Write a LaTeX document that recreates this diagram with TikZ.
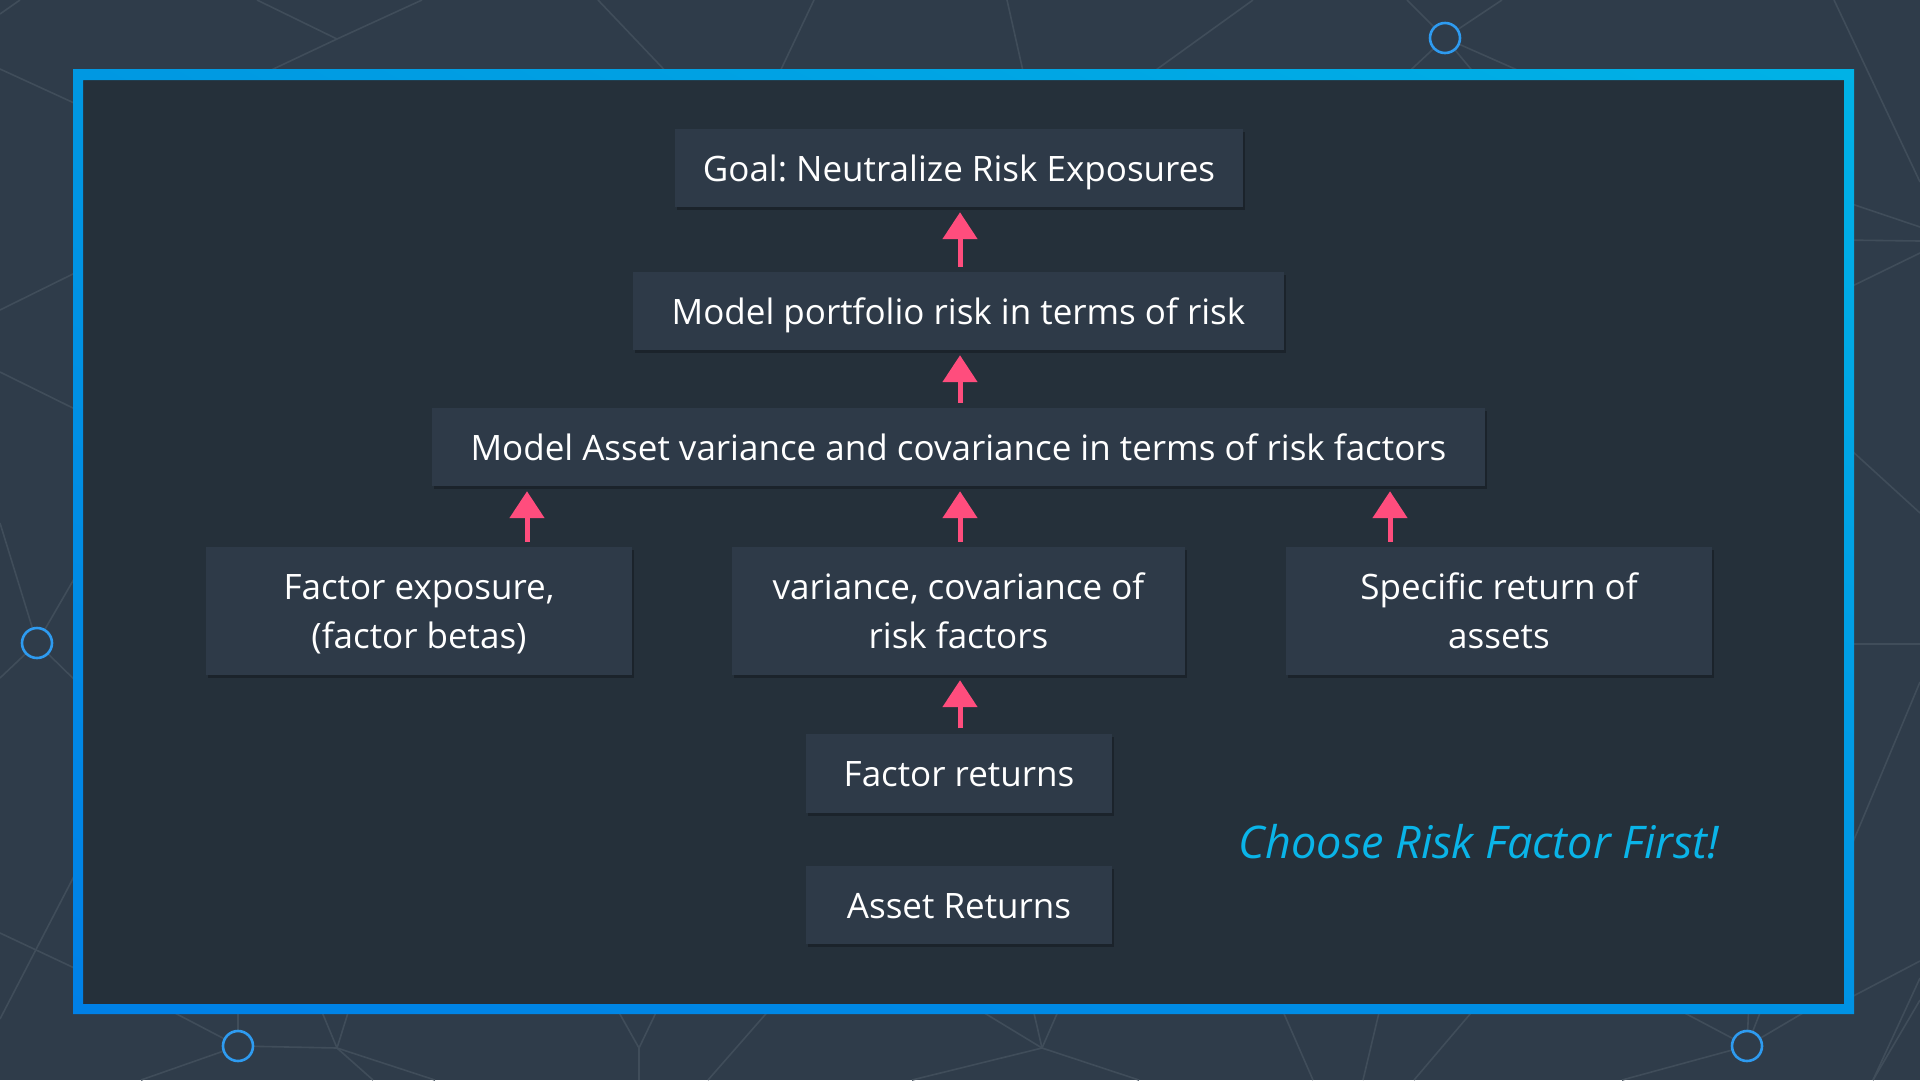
\documentclass[tikz,border=0pt]{standalone}
\usepackage{fontspec}
\setmainfont{Open Sans}
\usetikzlibrary{arrows.meta,shadows,shadings}
\frenchspacing
\definecolor{bgout}{HTML}{2F3C4A}
\definecolor{bgin}{HTML}{25303A}
\definecolor{boxfill}{HTML}{2E3A48}
\definecolor{netline}{HTML}{404D5A}
\definecolor{circblue}{HTML}{2E9BF0}
\definecolor{pinkarr}{HTML}{FF4D7D}
\definecolor{cyantext}{HTML}{0AB4E8}
\definecolor{frameA}{HTML}{0080E6}
\definecolor{frameB}{HTML}{0098E2}
\definecolor{frameC}{HTML}{00B2E6}
\definecolor{frameD}{HTML}{0092E4}
\begin{document}
\begin{tikzpicture}[x=1pt,y=-1pt,
  net/.style={draw=netline,line width=1.6pt},
  hub/.style={draw=circblue,line width=2.6pt,fill=bgout},
  card/.style={fill=boxfill,inner sep=0pt,align=center,text=white,
    font=\fontsize{35}{49}\selectfont\frenchspacing,
    drop shadow={shadow xshift=2pt,shadow yshift=-3pt,opacity=0.25,fill=black}},
  oneline/.style={card,text height=27pt,text depth=0pt},
  parr/.style={draw=pinkarr,line width=5pt,-{Triangle[length=27pt,width=34pt]},
    shorten <=5pt,shorten >=5pt}]
\useasboundingbox (0,0) rectangle (1920,1080);
\fill[bgout] (0,0) rectangle (1920,1080);
% background network
\draw[net] (257,0) -- (337,39) -- (422,0);
\draw[net] (337,39) -- (250,80);
\draw[net] (598,0) -- (674,80);
\draw[net] (814,0) -- (776,80);
\draw[net] (1007,0) -- (1025,80);
\draw[net] (1253,0) -- (1142,80);
\draw[net] (1445,38) -- (1407,0);
\draw[net] (1445,38) -- (1502,0);
\draw[net] (1445,38) -- (1400,80);
\draw[net] (1445,38) -- (1480,80);
\draw[net] (1445,38) -- (1540,80);
\draw[net] (1834,0) -- (1920,182);
\draw[net] (1840,200) -- (1920,227);
\draw[net] (1840,240) -- (1920,241);
\draw[net] (1840,292) -- (1920,253);
\draw[net] (1840,440) -- (1920,513);
\draw[net] (1840,644) -- (1920,644);
\draw[net] (1840,873) -- (1920,682);
\draw[net] (1840,1003) -- (1920,961);
\draw[net] (1873,1080) -- (1920,978);
\draw[net] (0,14) -- (20,0);
\draw[net] (0,69) -- (85,108);
\draw[net] (0,310) -- (85,268);
\draw[net] (0,372) -- (85,414);
\draw[net] (37,643) -- (0,523);
\draw[net] (37,643) -- (85,560);
\draw[net] (37,643) -- (0,678);
\draw[net] (37,643) -- (85,690);
\draw[net] (0,933) -- (85,973);
\draw[net] (0,1019) -- (85,855);
\draw[net] (238,1046) -- (150,1000);
\draw[net] (238,1046) -- (238,1000);
\draw[net] (238,1046) -- (337,1048);
\draw[net] (238,1046) -- (141,1080);
\draw[net] (337,1048) -- (317,1000);
\draw[net] (337,1048) -- (352,1000);
\draw[net] (337,1048) -- (435,1080);
\draw[net] (337,1048) -- (373,1080);
\draw[net] (612,1000) -- (639,1048) -- (662,1000);
\draw[net] (639,1048) -- (639,1080);
\draw[net] (778,1000) -- (708,1080);
\draw[net] (1042,1048) -- (963,1000);
\draw[net] (1042,1048) -- (1031,1000);
\draw[net] (1042,1048) -- (1063,1000);
\draw[net] (1042,1048) -- (912,1080);
\draw[net] (1042,1048) -- (1139,1080);
\draw[net] (1278,1000) -- (1313,1080);
\draw[net] (1382,1000) -- (1363,1080);
\draw[net] (1482,1000) -- (1414,1080);
\draw[net] (1747,1046) -- (1660,1000);
\draw[net] (1747,1046) -- (1749,1000);
\draw[net] (1747,1046) -- (1765,1000);
\draw[net] (1747,1046) -- (1825,1000);
\draw[net] (1747,1046) -- (1622,1080);
\draw[net] (1920,1000) -- (1873,1080);
% hubs
\draw[hub] (1445,38) circle[radius=15];
\draw[hub] (37,643) circle[radius=15];
\draw[hub] (238,1046) circle[radius=15];
\draw[hub] (1747,1046) circle[radius=15];
% frame
\fill[bgin] (73,69) rectangle (1854,1014);
\shade[even odd rule,lower left=frameA,upper left=frameB,upper right=frameC,lower right=frameD]
  (73,69) rectangle (1854,1014) (83,80) rectangle (1844,1004);
% boxes
\node[oneline,minimum width=568pt,minimum height=78pt] (goal) at (959,168) {Goal: Neutralize Risk Exposures};
\node[oneline,minimum width=651pt,minimum height=78pt] (mpr) at (958.5,311) {Model portfolio risk in terms of risk};
\node[oneline,minimum width=1053pt,minimum height=78pt] (mav) at (958.5,447) {Model Asset variance and covariance in terms of risk factors};
\node[card,text depth=0pt,minimum width=426pt,minimum height=128pt] (fe) at (419,611) {Factor exposure,\\(factor betas)};
\node[card,minimum width=453pt,minimum height=128pt] (vc) at (958.5,611) {variance, covariance of\\risk factors};
\node[card,minimum width=426pt,minimum height=128pt] (sr) at (1499,611) {Specific return of\\assets};
\node[oneline,minimum width=306pt,minimum height=79pt] (fr) at (959,773) {Factor returns};
\node[oneline,minimum width=306pt,minimum height=78pt] (ar) at (959,905) {Asset Returns};
\node[text=cyantext,font=\fontsize{45}{54}\selectfont\itshape,inner sep=0pt] (note) at (1479,842) {Choose Risk Factor First!};
% arrows
\coordinate (feA) at ([xshift=108pt]fe.north);
\coordinate (srA) at ([xshift=-109pt]sr.north);
\draw[parr] (mpr.north -| 960,0) -- (goal.south -| 960,0);
\draw[parr] (mav.north -| 960,0) -- (mpr.south -| 960,0);
\draw[parr] (vc.north -| 960,0) -- (mav.south -| 960,0);
\draw[parr] (feA) -- (feA |- mav.south);
\draw[parr] (srA) -- (srA |- mav.south);
\draw[parr] (fr.north -| 960,0) -- (vc.south -| 960,0);
\end{tikzpicture}
\end{document}
